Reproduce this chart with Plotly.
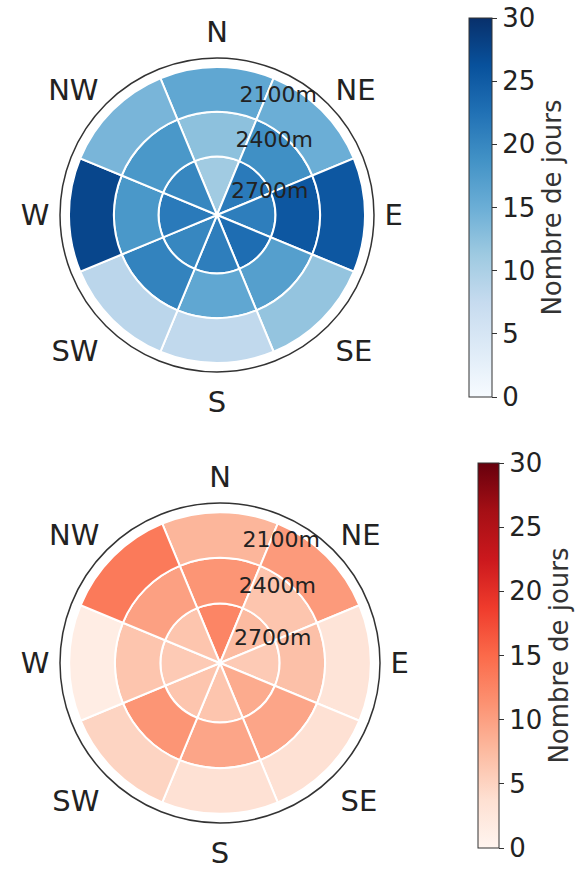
import plotly.graph_objects as go
import plotly.colors as pc

directions = ["N", "NE", "E", "SE", "S", "SW", "W", "NW"]
elevations = ["2700m", "2400m", "2100m"]  # inner -> outer

# Nombre de jours (top, blue panel), per elevation ring
blue_2700 = [11, 21.5, 21, 23, 21, 20, 21.5, 20]
blue_2400 = [12.5, 19, 25.5, 17, 16, 20.5, 18, 18]
blue_2100 = [16, 15, 25.5, 12, 8, 8.5, 27.5, 14]

# Nombre de jours (bottom, red panel)
red_2700 = [12.5, 7.5, 6, 9, 6.5, 6.5, 6, 6.5]
red_2400 = [11, 6.5, 7, 9.5, 9.5, 11, 6.5, 10]
red_2100 = [8, 10.5, 3, 3.5, 3.5, 5, 1.5, 13.5]

cmin, cmax = 0, 30
cb_ticks = [0, 5, 10, 15, 20, 25, 30]

# ring geometry (radial units)
ring_base = [0.0, 1.3, 2.3]
ring_width = [1.3, 1.0, 1.0]
r_max = 3.5

FONT = "DejaVu Sans"
W, H = 578, 872

fig = go.Figure()


def add_panel(polar, coloraxis, rings):
    for i, vals in enumerate(rings):
        fig.add_trace(go.Barpolar(
            theta=directions,
            r=[ring_width[i]] * len(directions),
            base=[ring_base[i]] * len(directions),
            marker=dict(color=vals, coloraxis=coloraxis,
                        line=dict(color="white", width=2)),
            subplot=polar,
            name=elevations[i],
            showlegend=False,
        ))


add_panel("polar", "coloraxis", [blue_2700, blue_2400, blue_2100])
add_panel("polar2", "coloraxis2", [red_2700, red_2400, red_2100])

tickvals = [ring_base[i] + ring_width[i] / 2 for i in range(3)]


def polar_layout(dx, dy):
    return dict(
        domain=dict(x=[dx[0] / W, dx[1] / W], y=[1 - dy[1] / H, 1 - dy[0] / H]),
        bgcolor="white",
        barmode="overlay",
        bargap=0,
        angularaxis=dict(
            direction="clockwise", rotation=90,
            categoryorder="array", categoryarray=directions,
            showgrid=False,
            ticks="outside", ticklen=4, tickcolor="rgba(0,0,0,0)",
            showline=True, linecolor="#333333", linewidth=1.5,
            tickfont=dict(family=FONT, size=29, color="#222222"),
        ),
        radialaxis=dict(
            range=[0, r_max], angle=85,
            showgrid=False, showline=False, ticks="",
            tickvals=tickvals, ticktext=elevations,
            tickfont=dict(family=FONT, size=22, color="#222222"),
            tickangle=85,
        ),
    )


def cbar(x, yc, length, thickness):
    return dict(
        x=x / W, xanchor="left", y=1 - yc / H, yanchor="middle",
        len=length, lenmode="pixels", thickness=thickness,
        xpad=0, ypad=0,
        outlinecolor="#333333", outlinewidth=1,
        ticks="outside", ticklen=5, tickcolor="#333333",
        tickvals=cb_ticks,
        tickfont=dict(family=FONT, size=26, color="#222222"),
        title=dict(text="Nombre de jours", side="right",
                   font=dict(family=FONT, size=26, color="#333333")),
    )


fig.update_layout(
    width=W, height=H,
    margin=dict(l=0, r=0, t=0, b=0),
    paper_bgcolor="white",
    polar=polar_layout((60, 374), (58, 372)),
    polar2=polar_layout((60, 380), (503, 823)),
    coloraxis=dict(colorscale=pc.sequential.Blues, cmin=cmin, cmax=cmax,
                   colorbar=cbar(469, 207.5, 379, 23)),
    coloraxis2=dict(colorscale=pc.sequential.Reds, cmin=cmin, cmax=cmax,
                    colorbar=cbar(478, 655.5, 385, 21)),
)

fig.write_html("out.html")
